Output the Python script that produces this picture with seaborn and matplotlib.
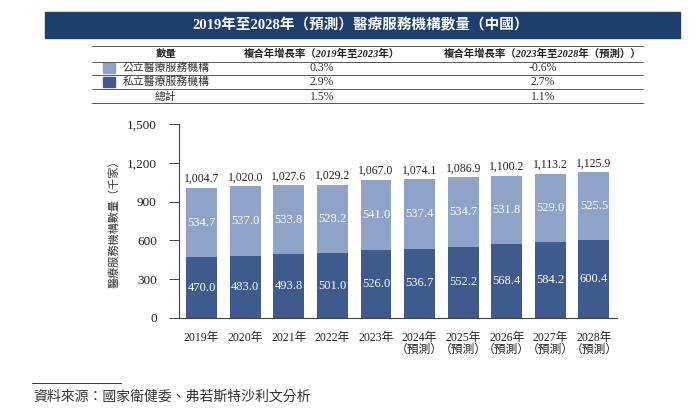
import matplotlib
matplotlib.use("Agg")
import matplotlib.pyplot as plt
import seaborn as sns
import pandas as pd
from matplotlib.patches import Rectangle
from matplotlib.lines import Line2D

years = ["2019年", "2020年", "2021年", "2022年", "2023年",
         "2024年\n（預測）", "2025年\n（預測）", "2026年\n（預測）", "2027年\n（預測）", "2028年\n（預測）"]
private = [470.0, 483.0, 493.8, 501.0, 526.0, 536.7, 552.2, 568.4, 584.2, 600.4]
public = [534.7, 537.0, 533.8, 528.2, 541.0, 537.4, 534.7, 531.8, 529.0, 525.5]
totals = [1004.7, 1020.0, 1027.6, 1029.2, 1067.0, 1074.1, 1086.9, 1100.2, 1113.2, 1125.9]
yticks = [0, 300, 600, 900, 1200, 1500]

table_header = ["數量", "複合年增長率（2019年至2023年）", "複合年增長率（2023年至2028年（預測））"]
table_rows = ["公立醫療服務機構", "私立醫療服務機構", "總計"]
cagr_1 = ["0.3%", "2.9%", "1.5%"]
cagr_2 = ["-0.6%", "2.7%", "1.1%"]

title = "2019年至2028年（預測）醫療服務機構數量（中國）"
ylabel = "醫療服務機構數量（千家）"
source = "資料來源：國家衛健委、弗若斯特沙利文分析"

DARK = "#3F5B8D"
LIGHT = "#8FA3C9"
NAVY = "#1E3E6C"

sns.set_theme(style="white")
FAM = ["Liberation Serif", "Noto Sans CJK TC", "DejaVu Sans"]
plt.rcParams["font.family"] = FAM

df = pd.DataFrame({"year": years, "private": private, "public": public, "total": totals})

fig = plt.figure(figsize=(7, 4.2), dpi=100)
W, H = 700, 420

def fx(x): return x / W
def fy(y): return 1 - y / H

# Title banner
fig.patches.append(Rectangle((fx(45), fy(38)), fx(680) - fx(45), fy(12) - fy(38),
                             transform=fig.transFigure, color=NAVY, zorder=0))
fig.text(fx(361), fy(25), title, color="white", fontsize=10.5, fontweight="bold",
         ha="center", va="center")

# Table
for yy in [46, 61.5, 75, 89, 103]:
    fig.lines.append(Line2D([fx(92), fx(643)], [fy(yy), fy(yy)], transform=fig.transFigure,
                            color="#555555", lw=0.7))
col_x = [fx(166), fx(322), fx(543)]
for x, t in zip(col_x, table_header):
    fig.text(x, fy(53.5), t, fontsize=7.5, fontstyle="italic", fontweight="bold",
             ha="center", va="center", color="#222222")
row_y = [68, 82, 96.5]
colors = [LIGHT, DARK, None]
for i, (r, a, b) in enumerate(zip(table_rows, cagr_1, cagr_2)):
    y = fy(row_y[i])
    if colors[i]:
        fig.patches.append(Rectangle((fx(103), y - 5 / H), fx(12), 10 / H,
                                     transform=fig.transFigure, color=colors[i]))
        fig.text(fx(123), y, r, fontsize=7.8, ha="left", va="center", color="#333333")
    else:
        fig.text(col_x[0], y, r, fontsize=7.8, ha="center", va="center", color="#333333",
                 fontstyle="italic")
    fig.text(col_x[1], y, a, fontsize=8.5, ha="center", va="center", color="#333333")
    fig.text(col_x[2], y, b, fontsize=8.5, ha="center", va="center", color="#333333")

# Chart
ax = fig.add_axes([fx(179), fy(318), fx(617) - fx(179), fy(124) - fy(318)])
sns.barplot(data=df, x="year", y="total", color=LIGHT, width=0.71, ax=ax,
            saturation=1, edgecolor="none")
sns.barplot(data=df, x="year", y="private", color=DARK, width=0.71, ax=ax,
            saturation=1, edgecolor="none")

for i in range(len(years)):
    ax.text(i, totals[i] + 22, f"{totals[i]:,.1f}", ha="center", va="bottom",
            fontsize=8.5, color="#222222")
    ax.text(i, private[i] + public[i] / 2, f"{public[i]:.1f}", ha="center", va="center",
            fontsize=9, color="white")
    ax.text(i, private[i] / 2, f"{private[i]:.1f}", ha="center", va="center",
            fontsize=9, color="white")

ax.set_ylim(0, 1500)
ax.set_xlim(-0.52, 9.53)
ax.set_yticks(yticks)
ax.set_yticklabels([f"{v:,}" for v in yticks], fontsize=9.5, color="#222222")
ax.set_xticks(range(len(years)))
ax.set_xticklabels(years, fontsize=8.5, color="#222222", linespacing=1.0)
ax.set_xlabel("")
ax.set_ylabel(ylabel, fontsize=8, color="#333333", labelpad=5)
ax.tick_params(axis="y", left=True, length=7, width=0.7, color="#444444", pad=9)
ax.tick_params(axis="x", bottom=False, pad=4)
for s in ["top", "right"]:
    ax.spines[s].set_visible(False)
for s in ["left", "bottom"]:
    ax.spines[s].set_color("#444444")
    ax.spines[s].set_linewidth(0.8)

# Source
fig.lines.append(Line2D([fx(32), fx(121)], [fy(383), fy(383)], transform=fig.transFigure,
                        color="#333333", lw=0.7))
fig.text(fx(33), fy(397), source, fontsize=10, fontstyle="italic", ha="left", va="center",
         color="#333333")

fig.savefig("out.png", dpi=100, facecolor="white")
